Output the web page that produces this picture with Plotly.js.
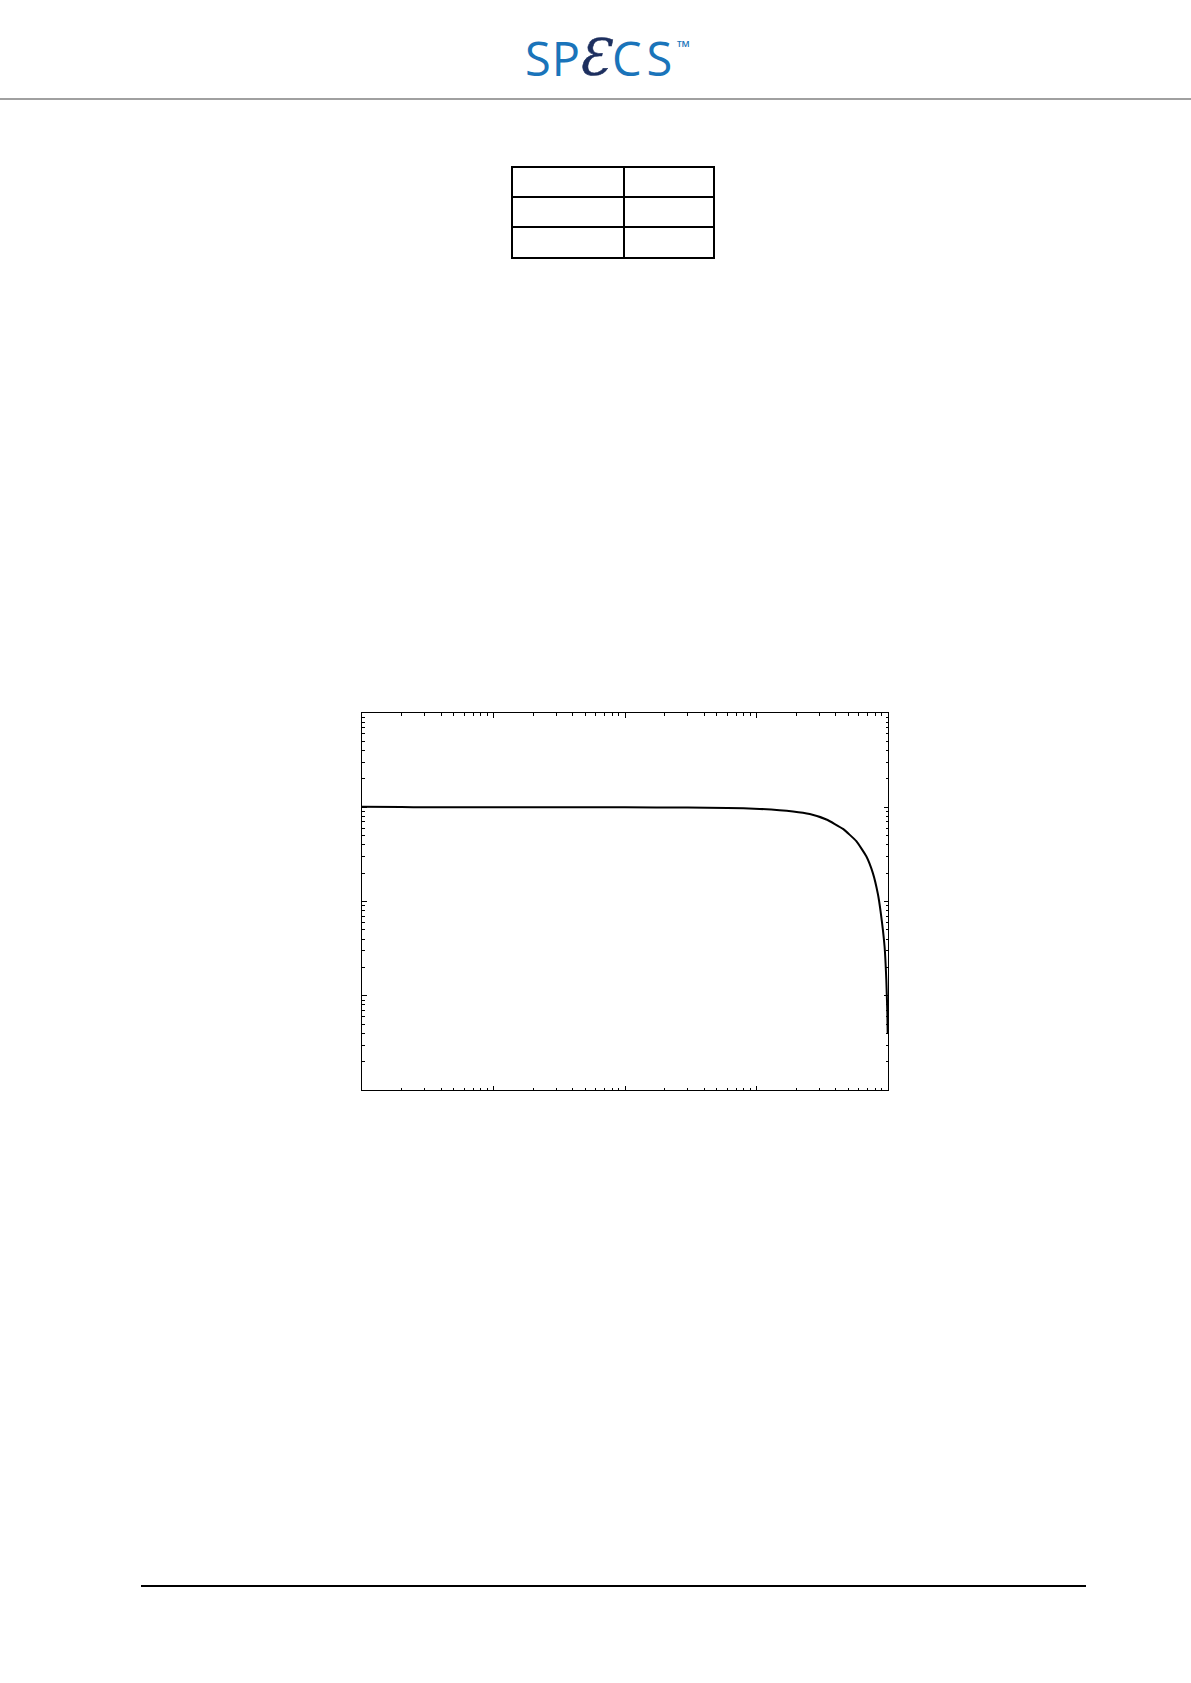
<!DOCTYPE html>
<html>
<head>
<meta charset="utf-8">
<script src="https://cdn.plot.ly/plotly-3.0.1.min.js"></script>
<style>
  html, body { margin:0; padding:0; background:#ffffff; }
  body { width:1191px; height:1683px; position:relative; overflow:hidden; }
  #chart { position:absolute; left:0; top:0; width:1191px; height:1683px; z-index:0; }
  .lg { position:absolute; z-index:2; white-space:nowrap; line-height:1; font-family:"Open Sans", "Noto Sans", sans-serif; color:#1a74ba; }
  .hl { position:absolute; z-index:2; }
</style>
</head>
<body>
<div id="chart"></div>
<div class="lg" style="left:525px; top:35px; font-size:47px; letter-spacing:1px;">SP</div>
<div class="lg" style="left:578px; top:33px; font-size:50px; font-style:italic; color:#1d2f5f; font-family:'DejaVu Serif', serif; -webkit-text-stroke:0.6px #1d2f5f;">Ɛ</div>
<div class="lg" style="left:612px; top:35px; font-size:47px; letter-spacing:5px;">CS</div>
<div class="lg" style="left:677px; top:38px; font-size:17px;">™</div>
<div class="hl" style="left:0; top:98px; width:1191px; height:2px; background:#a0a0a0;"></div>
<!-- empty table -->
<div class="hl" style="left:512px; top:166px; width:202px; height:2px; background:#000;"></div>
<div class="hl" style="left:512px; top:196px; width:202px; height:2px; background:#000;"></div>
<div class="hl" style="left:512px; top:226px; width:202px; height:2px; background:#000;"></div>
<div class="hl" style="left:512px; top:257px; width:202px; height:2px; background:#000;"></div>
<div class="hl" style="left:511px; top:166px; width:2px; height:93px; background:#000;"></div>
<div class="hl" style="left:623px; top:166px; width:2px; height:93px; background:#000;"></div>
<div class="hl" style="left:713px; top:166px; width:2px; height:93px; background:#000;"></div>
<!-- footer line -->
<div class="hl" style="left:141px; top:1585px; width:945px; height:2px; background:#000;"></div>
<script>
// curve values (log-log axes, no tick labels shown)
const xValues = [1, 2, 3, 10, 30, 100, 300, 600, 1057, 1897, 2541, 3401, 4546, 5742, 6839, 7674, 8377, 8782, 9420, 9706, 9885, 9947];
const yValues = [1.01, 1.005, 1.0, 0.999, 0.998, 0.997, 0.993, 0.984, 0.961, 0.902, 0.847, 0.741, 0.589, 0.437, 0.302, 0.200, 0.120, 0.0785, 0.0331, 0.0148, 0.0066, 0.0040];
const xRangeLog = [0, 4];
const yRangeLog = [-3, 1];

const axisBase = {
  type: 'log',
  showline: true,
  mirror: 'allticks',
  linecolor: '#000',
  linewidth: 1.3,
  ticks: 'inside',
  ticklen: 4.5,
  tickwidth: 1,
  tickcolor: '#000',
  dtick: 1,
  showticklabels: false,
  showgrid: false,
  zeroline: false,
  minor: { ticks: 'inside', ticklen: 2.5, tickwidth: 1, tickcolor: '#000', showgrid: false }
};

const trace = {
  x: xValues,
  y: yValues,
  type: 'scatter',
  mode: 'lines',
  line: { color: '#000', width: 2, shape: 'spline', smoothing: 0.4 },
  hoverinfo: 'skip'
};

const layout = {
  width: 1191,
  height: 1683,
  autosize: false,
  margin: { l: 362, r: 303, t: 713, b: 593, pad: 0 },
  paper_bgcolor: 'rgba(0,0,0,0)',
  plot_bgcolor: '#ffffff',
  showlegend: false,
  xaxis: Object.assign({}, axisBase, { range: xRangeLog }),
  yaxis: Object.assign({}, axisBase, { range: yRangeLog })
};

Plotly.newPlot('chart', [trace], layout, { staticPlot: true, displayModeBar: false });
</script>
</body>
</html>
